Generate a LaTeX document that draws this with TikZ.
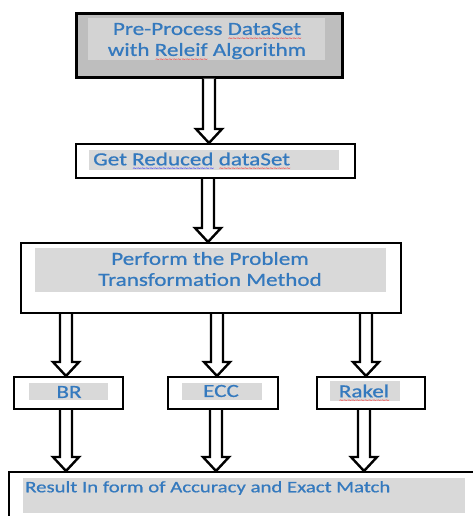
\documentclass[tikz,border=0pt]{standalone}
\usepackage{fontspec}
\setmainfont{Carlito}
\newfontfamily\wfont{Carlito}[FakeStretch=1.25,FakeBold=0.8]
\newfontfamily\rfont{Carlito}[FakeStretch=1.3,FakeBold=0.8]
\newfontfamily\wavefont{DejaVu Sans}
\usetikzlibrary{calc}
\definecolor{txtblue}{HTML}{3479BE}
\definecolor{ingray}{HTML}{D9D9D9}
\definecolor{outgray}{HTML}{BEBEBE}
\definecolor{in1gray}{HTML}{D3D3D3}
\newcommand\wavy[2]{\setbox0\hbox{#2}\rlap{\textcolor{#1}{\raisebox{-5.5pt}[0pt][0pt]{\hbox to\wd0{\xleaders\hbox{\wavefont\fontsize{6}{6}\selectfont\char"7E\kern-0.9pt}\hfill}}}}\box0\relax}
\tikzset{
  outbox/.style={draw=black, line width=2pt, fill=white, inner sep=0pt, anchor=north west},
  inbox/.style={draw=none, fill=ingray, inner sep=0pt, anchor=north west},
  txt/.style={text=txtblue, font=\wfont\fontsize{18.5}{21}\selectfont, inner sep=0pt, align=center},
  rtxt/.style={text=txtblue, font=\rfont\fontsize{16}{20}\selectfont, inner sep=0pt},
  harrowstyle/.style={draw=black, line width=2.4pt, fill=white, line join=miter}
}
\newcommand\harrow[3]{%
  \draw[harrowstyle] let \p1=(#2.south), \p2=(#3.north), \p3=(#1,0) in
    (\x3-6pt,\y1) -- (\x3-6pt,\y2+14pt) -- (\x3-13pt,\y2+14pt) -- (\x3,\y2)
    -- (\x3+13pt,\y2+14pt) -- (\x3+6pt,\y2+14pt) -- (\x3+6pt,\y1);}
\begin{document}
\begin{tikzpicture}[x=1pt,y=-1pt]
\useasboundingbox (0,0) rectangle (473,516);
% box 1
\node[outbox, line width=2.6pt, fill=outgray, minimum width=266pt, minimum height=64pt] (b1) at (75,12) {};
\node[inbox, fill=in1gray, minimum width=237pt, minimum height=42pt] (b1i) at (88,18) {};
\node[txt] (t1) at (207,41) {Pre-Process \wavy{red}{DataSet}\\with \wavy{red}{Releif} Algorithm};
% box 2
\node[outbox, minimum width=279pt, minimum height=34pt] (b2) at (75,143) {};
\node[inbox, minimum width=250pt, minimum height=20pt] (b2i) at (89,150) {};
\node[txt, anchor=west] (t2) at (93,159) {Get \wavy{blue}{Reduced} \wavy{red}{dataSet}};
% box 3
\node[outbox, minimum width=380pt, minimum height=70pt] (b3) at (20,242) {};
\node[inbox, minimum width=351pt, minimum height=44pt] (b3i) at (35,248) {};
\node[txt] (t3) at (210,269) {Perform the Problem\\Transformation Method};
% three method boxes
\node[outbox, minimum width=109pt, minimum height=32pt] (br) at (13,376) {};
\node[inbox, minimum width=79pt, minimum height=17pt] (bri) at (29,383) {};
\node[txt] (tbr) at (69,392) {BR};
\node[outbox, minimum width=110pt, minimum height=32pt] (ecc) at (167,376) {};
\node[inbox, minimum width=80pt, minimum height=17pt] (ecci) at (182,383) {};
\node[txt] (tecc) at (221,391) {ECC};
\node[outbox, minimum width=108pt, minimum height=32pt] (rak) at (316,376) {};
\node[inbox, minimum width=70pt, minimum height=20pt] (raki) at (330,381) {};
\node[txt] (trak) at (364,391) {\wavy{red}{Rakel}};
% result box
\node[outbox, minimum width=480pt, minimum height=60pt] (res) at (8,471) {};
\node[inbox, minimum width=442pt, minimum height=35pt] (resi) at (23,478) {};
\node[rtxt, anchor=west] (tres) at (25,488) {Result In form of Accuracy and Exact Match};
% arrows
\harrow{209}{b1}{b2}
\harrow{208}{b2}{b3}
\harrow{66}{b3}{br}
\harrow{217}{b3}{ecc}
\harrow{366}{b3}{rak}
\harrow{66}{br}{res}
\harrow{216}{ecc}{res}
\harrow{364}{rak}{res}
\end{tikzpicture}
\end{document}
